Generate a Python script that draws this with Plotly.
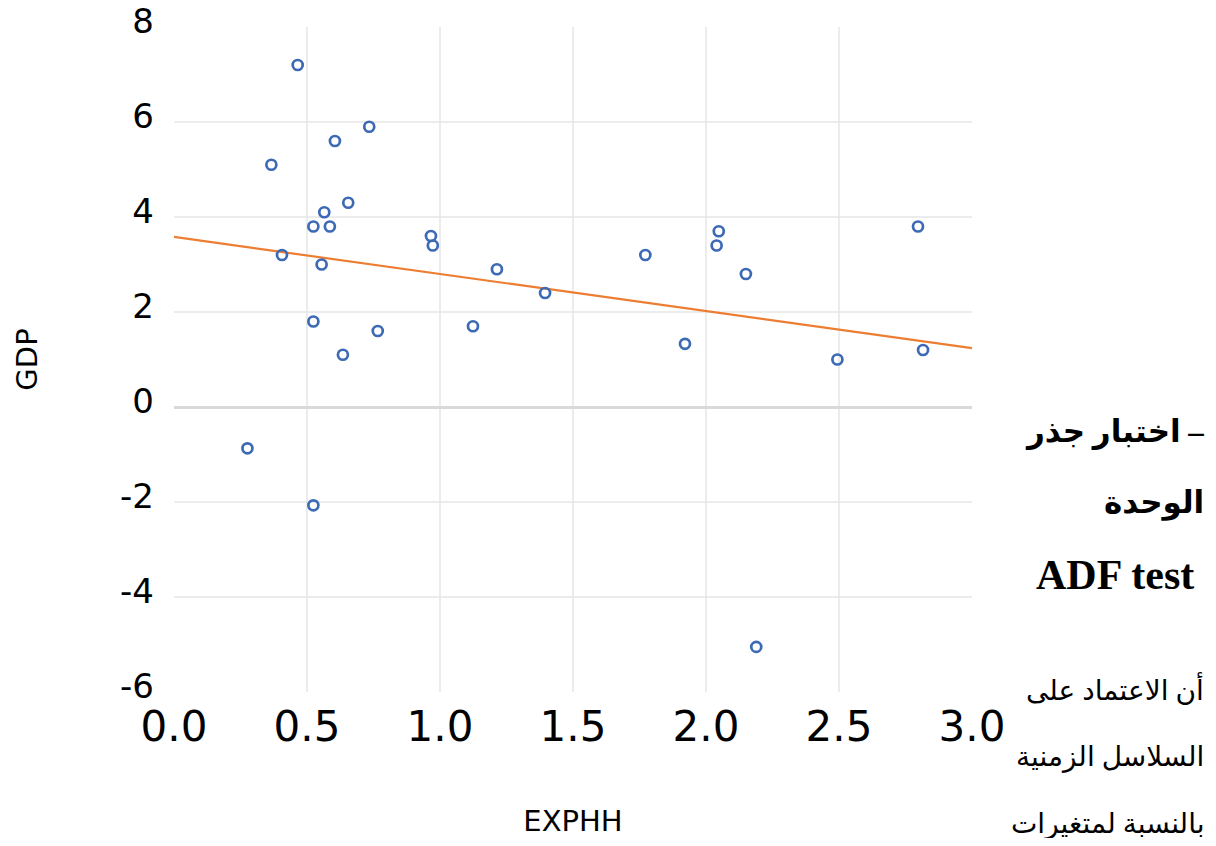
import plotly.graph_objects as go

# Data
exphh = [0.465, 0.366, 0.605, 0.734, 0.655, 0.565, 0.524, 0.586, 0.966, 0.973,
         0.406, 0.555, 1.214, 1.395, 0.524, 0.766, 1.124, 0.635, 0.276, 0.524,
         1.772, 2.048, 2.040, 2.150, 1.921, 2.494, 2.797, 2.816, 2.189]
gdp = [7.2, 5.1, 5.6, 5.9, 4.3, 4.1, 3.8, 3.8, 3.6, 3.4,
       3.2, 3.0, 2.9, 2.4, 1.8, 1.6, 1.7, 1.1, -0.87, -2.07,
       3.2, 3.7, 3.4, 2.8, 1.33, 1.0, 3.8, 1.2, -5.05]

trend_x = [0.0, 3.0]
trend_y = [3.58, 1.24]

x_tickvals = [0.0, 0.5, 1.0, 1.5, 2.0, 2.5, 3.0]
x_ticktext = ["0.0", "0.5", "1.0", "1.5", "2.0", "2.5", "3.0"]
y_tickvals = [-6, -4, -2, 0, 2, 4, 6, 8]
y_ticktext = ["-6", "-4", "-2", "0", "2", "4", "6", "8"]
x_grid = [0.5, 1.0, 1.5, 2.0, 2.5]
y_grid = [-4, -2, 2, 4, 6]

side_lines = ["اختبار جذر –", "الوحدة", "ADF test",
              "أن الاعتماد على", "السلاسل الزمنية", "بالنسبة لمتغيرات"]
side_bold = [True, True, True, False, False, False]

# page body has an 8px margin, so the figure is sized to fit inside it
OFF = 8
W, H = 1200, 830
L, T = 174 - OFF, 27 - OFF
R, B = W - (972 - OFF), H - (692 - OFF)
pw, ph = W - L - R, H - T - B

fig = go.Figure()

# interior gridlines only (no lines at the plot edges, as in the reference)
for gx in x_grid:
    fig.add_shape(type="line", xref="x", yref="paper", x0=gx, x1=gx, y0=0, y1=1,
                  line=dict(color="#E6E6E6", width=1.5), layer="below")
for gy in y_grid:
    fig.add_shape(type="line", xref="paper", yref="y", x0=0, x1=1, y0=gy, y1=gy,
                  line=dict(color="#E6E6E6", width=1.5), layer="below")

fig.add_trace(go.Scatter(
    x=trend_x, y=trend_y, mode="lines",
    line=dict(color="#ED7D31", width=2.2), showlegend=False, hoverinfo="skip"))
fig.add_trace(go.Scatter(
    x=exphh, y=gdp, mode="markers",
    marker=dict(symbol="circle-open", size=10, color="#3D6AB5",
                line=dict(width=2.7, color="#3D6AB5")),
    showlegend=False))

# side text (Arabic paragraph fragment on the right), positions in page pixels
side_y_px = [432, 503, 575, 688, 757, 824]
side_x_px = [1206, 1206, 1196, 1206, 1206, 1206]
side_sizes = [31, 31, 42, 28, 28, 28]
for txt, bold, xpx, ypx, fs in zip(side_lines, side_bold, side_x_px, side_y_px, side_sizes):
    fam = "Liberation Serif, DejaVu Sans, serif"
    fig.add_annotation(
        text=f"<b>{txt}</b>" if bold else txt,
        xref="paper", yref="paper",
        x=(xpx - OFF - L) / pw, y=(H - B - (ypx - OFF)) / ph,
        xanchor="right", yanchor="middle", showarrow=False,
        font=dict(family=fam, size=fs, color="#000000"))

fig.update_layout(
    width=W, height=H,
    margin=dict(l=L, r=R, t=T, b=B),
    paper_bgcolor="white", plot_bgcolor="white",
    font=dict(family="DejaVu Sans, sans-serif", color="#000000"),
    xaxis=dict(
        range=[0, 3], tickmode="array", tickvals=x_tickvals, ticktext=x_ticktext,
        showgrid=False, zeroline=False, showline=False, ticks="",
        automargin=False, ticklabelstandoff=6, ticklabeloverflow="allow",
        tickfont=dict(size=42, family="DejaVu Sans"),
        title=dict(text="EXPHH", font=dict(size=29, family="DejaVu Sans"), standoff=66),
    ),
    yaxis=dict(
        range=[-6, 8], tickmode="array", tickvals=y_tickvals, ticktext=y_ticktext,
        showgrid=False,
        zeroline=True, zerolinecolor="#D9D9D9", zerolinewidth=2.5,
        showline=False, ticks="", automargin=False,
        tickfont=dict(size=34, family="DejaVu Sans"),
        ticklabelstandoff=19, ticklabelshift=-6, ticklabeloverflow="allow",
        title=dict(text="GDP", font=dict(size=29, family="DejaVu Sans"), standoff=73),
    ),
)

fig.write_html("out.html")
